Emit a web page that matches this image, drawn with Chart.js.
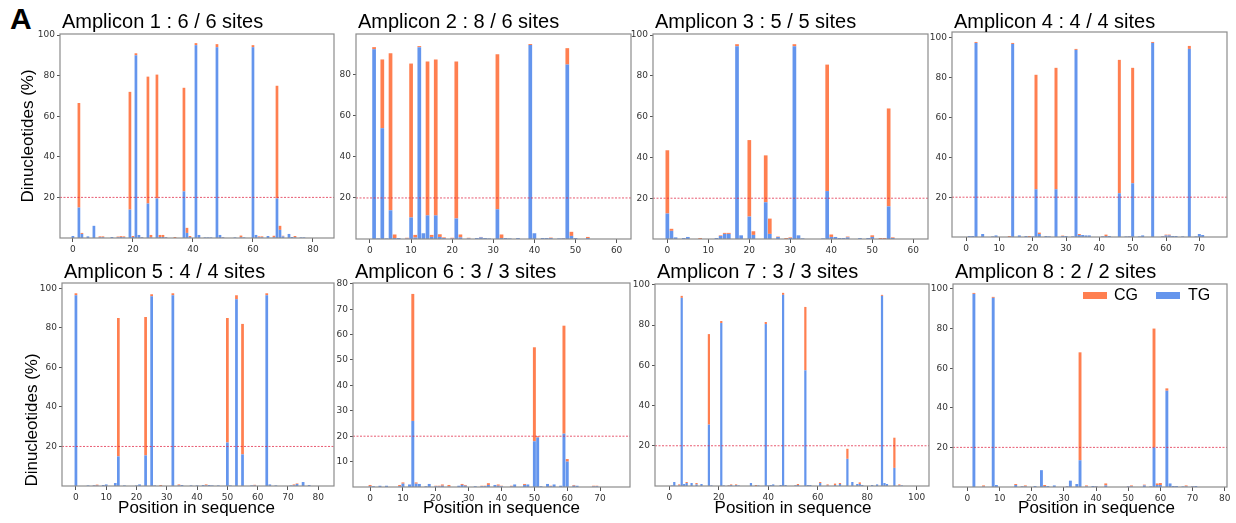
<!DOCTYPE html>
<html>
<head>
<meta charset="utf-8">
<script src="https://cdn.jsdelivr.net/npm/chart.js@4.4.1/dist/chart.umd.min.js"></script>
<style>
  html, body { margin: 0; padding: 0; background: #fff; overflow: hidden; }
  #fig { position: relative; width: 1236px; height: 523px; font-family: "Liberation Sans", Arial, sans-serif; color: #000; }
  #fig canvas { position: absolute; }
  .titulo { position: absolute; font-size: 20px; line-height: 20px; white-space: nowrap; }
  .ejeY { position: absolute; font-size: 17px; line-height: 17px; white-space: nowrap; transform: translate(-50%, -50%) rotate(-90deg); }
  .ejeX { position: absolute; font-size: 17px; line-height: 17px; white-space: nowrap; transform: translateX(-50%); }
  .letra { position: absolute; left: 10px; top: 4px; font-size: 30px; line-height: 30px; font-weight: bold; }
  .leyenda-caja { position: absolute; width: 24px; height: 7px; }
  .leyenda-txt { position: absolute; font-size: 16px; line-height: 16px; }
</style>
</head>
<body>
<div id="fig">
  <div class="letra">A</div>
</div>
<script>
// Posiciones con CpG / TpG por amplicón (valores en %)
const pos1 = [0, 2, 3, 5, 7, 9, 10, 13, 15, 16,
              17, 19, 20, 21, 22, 23, 25, 26, 28, 29,
              30, 31, 34, 37, 38, 39, 41, 42, 44, 45,
              46, 48, 49, 50, 54, 56, 57, 60, 61, 62,
              63, 65, 67, 68, 69, 70, 72, 73, 74, 76,
              77];
const tg1 = [1, 15, 2, 0.8, 6, 0.3, 0.3, 0.5, 0.3, 0.5,
             0.3, 14, 0.5, 90, 1.5, 0.3, 17, 0.3, 19.5, 0.5,
             0.5, 0.3, 0, 23, 2.5, 0.5, 95, 1.5, 0.3, 0.3,
             0.3, 94, 1.5, 0.3, 0.3, 0.3, 0.3, 94, 1.5, 0.3,
             0.3, 1, 0.3, 19.5, 4, 0.8, 2, 0.5, 0.3, 0.3,
             0.3];
const cg1 = [0, 51.5, 0.5, 0, 0, 0.5, 0.5, 0, 0.4, 0.4,
             0.5, 58, 0.5, 1, 0, 0.2, 62.5, 1.2, 61, 1,
             1, 0.2, 0.5, 51, 2.5, 0.5, 1, 0, 0, 0,
             0, 1.5, 0, 0.2, 0, 0.9, 0, 1, 0, 0.5,
             0.5, 0, 0.8, 55.5, 2, 0.3, 0, 0, 0.7, 0,
             0];

const pos2 = [1, 2, 3, 4, 5, 6, 7, 9, 10, 11,
              12, 13, 14, 15, 16, 17, 18, 20, 21, 22,
              24, 26, 27, 28, 29, 31, 32, 33, 34, 36,
              39, 40, 42, 43, 44, 46, 47, 48, 49, 50,
              53];
const tg2 = [92.5, 0.3, 54, 0.3, 14, 0.5, 0.5, 0.2, 10.5, 0.7,
             93.5, 2.8, 11.5, 1, 11.5, 1, 0.5, 0.2, 10, 0.8,
             0.3, 0.5, 0.8, 0.5, 0.3, 14.5, 0.5, 0.5, 0.3, 0.5,
             94.5, 2.8, 0.5, 0.5, 0.5, 0.3, 0.3, 85, 1.5, 0.5,
             0.5];
const cg2 = [1, 0, 33.5, 0, 76.5, 1.7, 0, 0.4, 75, 1.3,
             0.5, 0, 75, 1, 76, 1.3, 0.3, 0.4, 76.5, 1.4,
             0.3, 0, 0.2, 0, 0, 75.5, 1.7, 0, 0, 0,
             0.5, 0, 0, 0, 0.2, 0, 0.2, 8, 2, 0,
             0.5];

const pos3 = [0, 1, 2, 4, 5, 8, 12, 13, 14, 15,
              17, 18, 20, 21, 24, 25, 27, 29, 30, 31,
              32, 33, 38, 39, 40, 41, 42, 43, 44, 47,
              49, 50, 52, 53, 54, 55];
const tg3 = [12.5, 4, 0.8, 0.5, 1, 0, 0.5, 1.5, 2.5, 2.5,
             94.5, 1.8, 11, 2, 18, 2.5, 1, 0, 0.5, 94.5,
             1.8, 0.3, 0.3, 23.5, 1, 1, 0.5, 0.5, 0.8, 0.5,
             0.5, 1, 0, 0, 16, 0.5];
const cg3 = [31, 1, 0, 0, 0, 0.5, 0, 0.3, 0.5, 0.5,
             1, 0, 37.5, 1.8, 23, 7.5, 0.2, 0.5, 0.3, 1,
             0, 0, 0, 62, 1.2, 0, 0, 0, 0.4, 0,
             0, 0.8, 0.5, 0.5, 48, 0.3];

const pos4 = [1, 2, 3, 5, 8, 9, 13, 14, 16, 18,
              19, 20, 21, 22, 24, 25, 27, 29, 30, 32,
              33, 34, 35, 36, 37, 41, 42, 43, 46, 48,
              49, 50, 52, 53, 56, 59, 60, 61, 62, 63,
              65, 67, 69, 70, 71];
const tg4 = [0.5, 0.5, 97.5, 1.5, 0.3, 0.8, 0, 97, 0.8, 0.5,
             0, 0.3, 24, 1.5, 0.5, 0.3, 24, 0.5, 0.5, 0.3,
             94, 1, 1, 0.8, 0.8, 0.3, 0.5, 0.5, 22, 0.3,
             0.3, 27, 0.3, 0.8, 97.5, 0.3, 0.8, 0.8, 0.5, 0.5,
             0.3, 94.5, 0.3, 1.5, 1];
const cg4 = [0, 0, 0.5, 0, 0, 0, 0.5, 0.5, 0, 0,
             0.5, 0, 57.5, 0.7, 0, 0, 61, 0.2, 0, 0,
             0.5, 0.5, 0, 0, 0, 0.2, 0.7, 0, 67, 0,
             0.2, 58, 0, 0, 0.5, 0.2, 0.4, 0.4, 0, 0,
             0, 1.5, 0, 0, 0];

const pos5 = [0, 4, 6, 7, 9, 10, 13, 14, 16, 20,
              21, 23, 25, 26, 28, 32, 34, 35, 38, 40,
              42, 43, 44, 45, 47, 50, 51, 53, 55, 58,
              59, 63, 64, 66, 71, 72, 73, 75, 77];
const tg5 = [96.5, 0.3, 0.3, 0.2, 0.5, 0.8, 1.5, 15, 0.3, 0.3,
             0.8, 15.5, 96, 0.3, 0, 96.5, 0.3, 0.5, 0.3, 0.3,
             0.5, 0.3, 0.5, 0.3, 0.3, 22, 0.3, 94.5, 16, 0.3,
             0.2, 96.5, 0.8, 0.3, 0.3, 0.3, 1, 2, 0.5];
const cg5 = [1, 0, 0.2, 0.5, 0, 0, 0, 70, 0, 0,
             0, 70, 1, 0, 0.5, 1, 0.5, 0, 0, 0,
             0, 0.5, 0, 0, 0, 63, 0, 2, 66, 0,
             0.4, 1, 0, 0, 0, 0.5, 0.3, 0, 0];

const pos6 = [0, 1, 3, 5, 9, 10, 12, 13, 14, 15,
              17, 18, 20, 21, 22, 24, 27, 28, 29, 32,
              34, 35, 36, 38, 39, 40, 43, 44, 47, 48,
              50, 51, 52, 54, 55, 56, 58, 59, 60, 62,
              63, 68, 69];
const tg6 = [0.3, 0.3, 0.5, 0.5, 0.3, 1.3, 1, 26, 1.3, 1.2,
             0.3, 1.2, 0.3, 0.2, 0.5, 0.2, 0.5, 0.8, 0.5, 0.3,
             0.3, 0.3, 0.8, 0.8, 0.5, 0.3, 0.2, 1, 0.8, 1,
             18, 19.5, 0.3, 1.2, 0.3, 1, 0.5, 21, 10, 0.5,
             0.5, 0.2, 0.3];
const cg6 = [0.5, 0, 0, 0, 0.5, 0.5, 0, 50, 0.5, 0,
             0, 0, 0.2, 0.3, 0.5, 0.6, 0, 0.4, 0.3, 0,
             0.2, 0.2, 0.7, 0, 0.5, 0.2, 0.3, 0, 0.4, 0,
             37, 0.5, 0, 0, 0.2, 0, 0, 42.5, 1, 0.3,
             0, 0.3, 0.2];

const pos7 = [1, 2, 4, 5, 6, 7, 9, 11, 13, 16,
              17, 21, 22, 24, 25, 27, 28, 33, 35, 36,
              39, 40, 41, 42, 45, 46, 47, 51, 52, 55,
              56, 57, 61, 64, 67, 69, 72, 74, 76, 77,
              78, 82, 84, 86, 87, 88, 91, 93, 94];
const tg7 = [0.3, 2, 0.2, 93.5, 1, 1.5, 1.5, 0.8, 1, 30.5,
             0.3, 81, 0.3, 0.2, 0.5, 0.5, 0.3, 1.5, 0, 0.3,
             80.5, 0.3, 0.5, 0.8, 0.5, 95, 0.5, 0.3, 0.5, 57.5,
             0.5, 0.5, 1.5, 0.2, 0.5, 1, 13.5, 2, 1, 1,
             0.5, 0.5, 0.8, 94.5, 1.5, 1, 9, 0.3, 0.3];
const cg7 = [0, 0, 0.6, 1, 0, 0.5, 0, 0.7, 0, 45,
             0, 1, 0, 0.3, 0.3, 0.3, 0, 0, 0.5, 0,
             1, 0, 0, 0, 0, 1, 0, 0.2, 0.5, 31.5,
             0, 0, 0.5, 0.6, 0.7, 0.5, 5, 0, 0, 0.8,
             0, 0, 0, 0.5, 0, 0, 15, 0.5, 0];

const pos8 = [2, 5, 8, 9, 15, 17, 18, 21, 23, 24,
              25, 27, 31, 32, 34, 35, 37, 39, 40, 43,
              50, 51, 55, 57, 58, 59, 60, 62, 63, 64,
              65, 67, 68, 70, 71];
const tg8 = [97.5, 0.2, 95.5, 1, 1, 0.3, 0.3, 0.5, 8.5, 0.5,
             0.5, 0.8, 0.3, 3.2, 1.5, 13.5, 0.3, 0.5, 0.3, 0.8,
             0.3, 0.3, 0.8, 0.3, 20, 1, 1, 48.6, 1.8, 0.5,
             0.5, 0.3, 0.3, 0.3, 0.5];
const cg8 = [0.5, 0.6, 0.5, 0, 0.5, 0.2, 0.5, 0, 0, 0.5,
             0, 0, 0.2, 0, 0, 54.5, 0.5, 0, 0.2, 1,
             0.2, 0.5, 0.4, 0, 60, 0.8, 1, 1.2, 0, 0,
             0, 0, 0.5, 0.2, 0];

// Títulos y marcas de ejes
const titulos = ["Amplicon 1 : 6 / 6 sites", "Amplicon 2 : 8 / 6 sites", "Amplicon 3 : 5 / 5 sites", "Amplicon 4 : 4 / 4 sites",
                 "Amplicon 5 : 4 / 4 sites", "Amplicon 6 : 3 / 3 sites", "Amplicon 7 : 3 / 3 sites", "Amplicon 8 : 2 / 2 sites"];
const xTicks20 = [0, 20, 40, 60, 80];
const xTicks60 = [0, 10, 20, 30, 40, 50, 60];
const xTicks70 = [0, 10, 20, 30, 40, 50, 60, 70];
const xTicks80 = [0, 10, 20, 30, 40, 50, 60, 70, 80];
const xTicks100 = [0, 20, 40, 60, 80, 100];
const yTicks100 = [20, 40, 60, 80, 100];
const yTicks80 = [20, 40, 60, 80];
const yTicks6 = [10, 20, 30, 40, 50, 60, 70, 80];
const UMBRAL = 20;

const COLOR_CG = "#ff7f50";
const COLOR_TG = "#6495ed";

// Tamaño reservado para los ejes dentro de cada canvas
const EJE_Y_W = 32, EJE_X_H = 22, PAD_TOP = 8, PAD_RIGHT = 12;

// caja = [izq, arriba, der, abajo] del área de dibujo en la página
const paneles = [
  { pos: pos1, tg: tg1, cg: cg1, caja: [60, 34, 334, 238],   xr: [-4.3, 87],   ymax: 100.5, xt: xTicks20, yt: yTicks100 },
  { pos: pos2, tg: tg2, cg: cg2, caja: [356, 34, 631, 239],  xr: [-3.4, 63.5], ymax: 99.9,  xt: xTicks60, yt: yTicks80 },
  { pos: pos3, tg: tg3, cg: cg3, caja: [653, 34, 928, 239],  xr: [-3.5, 63.6], ymax: 100.5, xt: xTicks60, yt: yTicks100 },
  { pos: pos4, tg: tg4, cg: cg4, caja: [952, 32, 1227, 237], xr: [-4.2, 78.3], ymax: 103,   xt: xTicks70, yt: yTicks100 },
  { pos: pos5, tg: tg5, cg: cg5, caja: [62, 283, 334, 486],  xr: [-4.6, 85.2], ymax: 102.7, xt: xTicks80, yt: yTicks100 },
  { pos: pos6, tg: tg6, cg: cg6, caja: [353, 283, 630, 487], xr: [-5.2, 79.1], ymax: 80.3,  xt: xTicks70, yt: yTicks6 },
  { pos: pos7, tg: tg7, cg: cg7, caja: [655, 284, 929, 486], xr: [-5.8, 105],  ymax: 100.4, xt: xTicks100, yt: yTicks100 },
  { pos: pos8, tg: tg8, cg: cg8, caja: [953, 284, 1227, 487], xr: [-4.5, 80.7], ymax: 102.5, xt: xTicks80, yt: yTicks100 }
];

const fig = document.getElementById("fig");

// Marco gris alrededor del área (como los spines de matplotlib)
const marcoPlugin = {
  id: "marco",
  afterDraw(chart) {
    const { ctx, chartArea: a } = chart;
    ctx.save();
    ctx.strokeStyle = "#8c8c8c";
    ctx.lineWidth = 1.2;
    ctx.strokeRect(a.left, a.top, a.right - a.left, a.bottom - a.top);
    ctx.restore();
  }
};

const fuenteTicks = { family: "DejaVu Sans", size: 9 };

function crearPanel(p, idx) {
  const w = p.caja[2] - p.caja[0];
  const h = p.caja[3] - p.caja[1];
  const canvas = document.createElement("canvas");
  canvas.width = w + EJE_Y_W + PAD_RIGHT;
  canvas.height = h + PAD_TOP + EJE_X_H;
  canvas.style.left = (p.caja[0] - EJE_Y_W) + "px";
  canvas.style.top = (p.caja[1] - PAD_TOP) + "px";
  fig.appendChild(canvas);

  const titulo = document.createElement("div");
  titulo.className = "titulo";
  titulo.textContent = titulos[idx];
  titulo.style.left = (p.caja[0] + 2) + "px";
  titulo.style.top = (idx < 4 ? 10.6 : 260.8) + "px";
  fig.appendChild(titulo);

  new Chart(canvas.getContext("2d"), {
    type: "bar",
    data: {
      datasets: [
        {
          label: "TG",
          data: p.pos.map((x, i) => ({ x: x, y: p.tg[i] })),
          backgroundColor: COLOR_TG,
          borderWidth: 0,
          stack: "s",
          order: 2
        },
        {
          label: "CG",
          data: p.pos.map((x, i) => ({ x: x, y: p.cg[i] })),
          backgroundColor: COLOR_CG,
          borderWidth: 0,
          stack: "s",
          order: 2
        },
        {
          type: "line",
          label: "umbral",
          data: [{ x: p.xr[0], y: UMBRAL }, { x: p.xr[1], y: UMBRAL }],
          borderColor: "rgba(225, 40, 70, 0.85)",
          borderWidth: 0.9,
          borderDash: [2, 1.5],
          pointRadius: 0,
          stack: "ref",
          order: 0
        }
      ]
    },
    options: {
      responsive: false,
      animation: false,
      events: [],
      layout: { padding: { top: PAD_TOP, right: PAD_RIGHT, left: 0, bottom: 0 } },
      categoryPercentage: 1,
      barPercentage: 0.9,
      plugins: { legend: { display: false }, tooltip: { enabled: false } },
      scales: {
        x: {
          type: "linear",
          stacked: true,
          offset: false,
          min: p.xr[0],
          max: p.xr[1],
          border: { display: false },
          grid: { display: true, offset: false, drawOnChartArea: false, drawTicks: true, tickLength: 4, color: "#555" },
          ticks: { autoSkip: false, maxRotation: 0, padding: 2, color: "#333", font: fuenteTicks, callback: v => v },
          afterBuildTicks: s => { s.ticks = p.xt.map(v => ({ value: v })); },
          afterFit: s => { s.height = EJE_X_H; }
        },
        y: {
          stacked: true,
          min: 0,
          max: p.ymax,
          border: { display: false },
          grid: { display: true, drawOnChartArea: false, drawTicks: true, tickLength: 3, color: "#555" },
          ticks: { padding: 2, color: "#333", font: fuenteTicks, callback: v => v },
          afterBuildTicks: s => { s.ticks = p.yt.map(v => ({ value: v })); },
          afterFit: s => { s.width = EJE_Y_W; }
        }
      }
    },
    plugins: [marcoPlugin]
  });
}

paneles.forEach(crearPanel);

// Etiquetas de ejes
[[26.7, 135.5], [31, 419.5]].forEach(c => {
  const d = document.createElement("div");
  d.className = "ejeY";
  d.textContent = "Dinucleotides (%)";
  d.style.left = c[0] + "px";
  d.style.top = c[1] + "px";
  fig.appendChild(d);
});
[196.5, 501.5, 793, 1096.5].forEach(cx => {
  const d = document.createElement("div");
  d.className = "ejeX";
  d.textContent = "Position in sequence";
  d.style.left = cx + "px";
  d.style.top = "499px";
  fig.appendChild(d);
});

// Leyenda (panel 8)
[["CG", COLOR_CG, 1083, 1114], ["TG", COLOR_TG, 1156, 1188]].forEach(l => {
  const caja = document.createElement("div");
  caja.className = "leyenda-caja";
  caja.style.background = l[1];
  caja.style.left = l[2] + "px";
  caja.style.top = "291.5px";
  fig.appendChild(caja);
  const t = document.createElement("div");
  t.className = "leyenda-txt";
  t.textContent = l[0];
  t.style.left = l[3] + "px";
  t.style.top = "286.5px";
  fig.appendChild(t);
});
</script>
</body>
</html>
